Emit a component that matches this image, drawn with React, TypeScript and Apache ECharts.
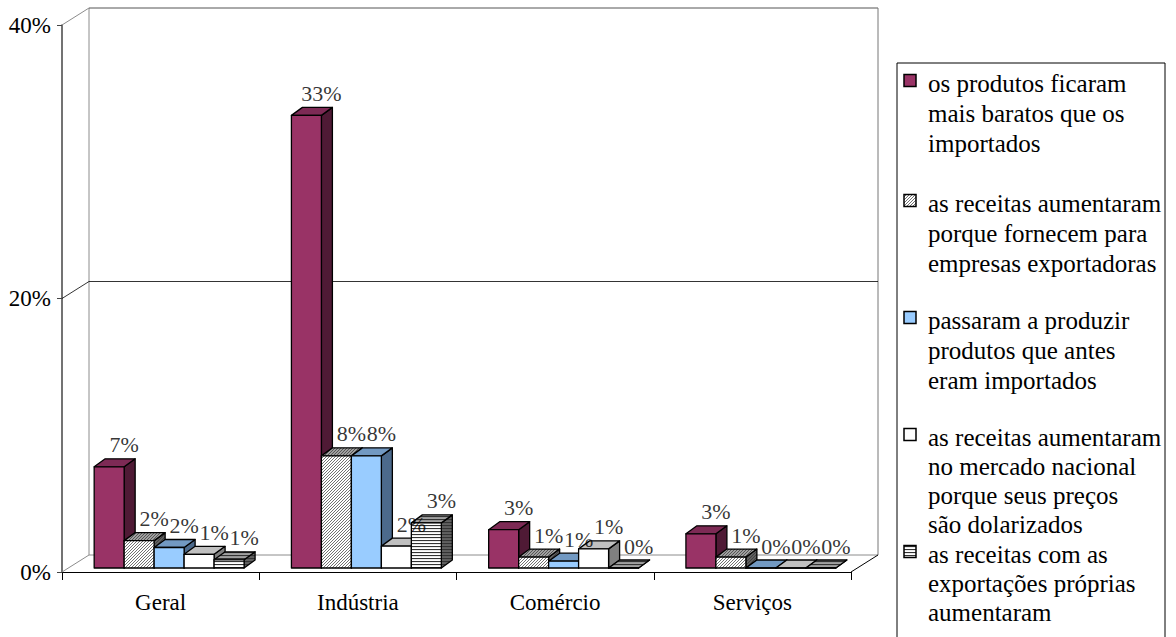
import { useEffect, useRef } from 'react';
import * as echarts from 'echarts';

// ---- data ----
const categories = ['Geral', 'Indústria', 'Comércio', 'Serviços'];

const legendLines: string[][] = [
  ['os produtos ficaram', 'mais baratos que os', 'importados'],
  ['as receitas aumentaram', 'porque fornecem para', 'empresas exportadoras'],
  ['passaram a produzir', 'produtos que antes', 'eram importados'],
  ['as receitas aumentaram', 'no mercado nacional', 'porque seus preços', 'são dolarizados'],
  ['as receitas com as', 'exportações próprias', 'aumentaram'],
];
const seriesNames = legendLines.map((l) => l.join(' '));

const cheaperThanImports = [7.4, 33.1, 2.8, 2.5];
const supplyExporters = [2.0, 8.2, 0.8, 0.8];
const replacedImports = [1.5, 8.2, 0.5, 0];
const dollarPricedDomestic = [1.0, 1.6, 1.4, 0];
const ownExports = [0.6, 3.3, 0, 0];
const seriesValues = [cheaperThanImports, supplyExporters, replacedImports, dollarPricedDomestic, ownExports];

const yMin = 0;
const yMax = 40;
const yStep = 20;

// ---- styling ----
const SERIF = 'Liberation Serif';
const WALL_DX = 27;
const WALL_DY = -17;
const FRONT_DX = 8.5;
const FRONT_DY = -4;
const BAR_DX = 11;
const BAR_DY = -8;
const BAR_FRAC = 0.152;
const BAR_PX = 30; // bar width in pixels for the label offsets (band 197 * BAR_FRAC)
const LABEL_DX = 15;
const LABEL_DY = -22;

const tile = (w: number, h: number, body: string) => ({
  image:
    'data:image/svg+xml;utf8,' +
    encodeURIComponent(`<svg xmlns="http://www.w3.org/2000/svg" width="${w}" height="${h}" viewBox="0 0 ${w} ${h}">${body}</svg>`),
  repeat: 'repeat',
  imageWidth: w,
  imageHeight: h,
});

const hatch = (bg: string) =>
  tile(
    3,
    3,
    `<rect width="3" height="3" fill="${bg}"/><path d="M0 3L3 0M-1 1L1 -1M2 4L4 2" stroke="#333" stroke-width="0.7"/>`
  );
const stripes = (bg: string) =>
  tile(3, 3, `<rect width="3" height="3" fill="${bg}"/><rect y="0" width="3" height="1.1" fill="#333"/>`);

const faceStyles = [
  { front: '#993366', top: '#7d2a55', side: '#4f1a35' },
  { front: hatch('#ffffff'), top: hatch('#a0a0a0'), side: hatch('#606060') },
  { front: '#99ccff', top: '#7299c2', side: '#4c6a8c' },
  { front: '#ffffff', top: '#c0c0c0', side: '#808080' },
  { front: stripes('#ffffff'), top: stripes('#a0a0a0'), side: stripes('#606060') },
];

const legendFirstLine = [83, 203, 320, 437, 554];
const legendLineHeight = [30, 30, 30, 29, 29];

export default function App() {
  const ref = useRef<HTMLDivElement>(null);

  useEffect(() => {
    if (!ref.current) return;
    const chart = echarts.init(ref.current, null, { renderer: 'svg' });

    const frameSeries: any = {
      type: 'custom',
      coordinateSystem: 'cartesian2d',
      data: [[0, 0]],
      z: 1,
      silent: true,
      renderItem: (params: any, api: any) => {
        const cs = params.coordSys;
        const x = cs.x;
        const y = cs.y;
        const w = cs.width;
        const yb = cs.y + cs.height;
        const gridYs: number[] = [];
        for (let v = yMin + yStep; v < yMax; v += yStep) gridYs.push(api.coord([0, v])[1]);
        const ln = (x1: number, y1: number, x2: number, y2: number, c: string, lw = 1) => ({
          type: 'line',
          shape: { x1, y1, x2, y2 },
          style: { stroke: c, lineWidth: lw },
        });
        const gray = '#8c8c8c';
        const children: any[] = [
          ln(x, y, x + WALL_DX, y + WALL_DY, gray),
          ln(x + WALL_DX, y + WALL_DY, x + WALL_DX, yb + WALL_DY, gray),
          ln(x, yb, x + WALL_DX, yb + WALL_DY, gray),
          ln(x + WALL_DX, yb + WALL_DY, x + w + WALL_DX, yb + WALL_DY, gray),
          ln(x + WALL_DX, y + WALL_DY, x + w + WALL_DX, y + WALL_DY, '#555'),
          ln(x + w + WALL_DX, y + WALL_DY, x + w + WALL_DX, yb + WALL_DY, '#777'),
          ln(x + w, yb, x + w + WALL_DX, yb + WALL_DY, '#000'),
        ];
        gridYs.forEach((gy) => {
          children.push(ln(x, gy, x + WALL_DX, gy + WALL_DY, '#000', 0.8));
          children.push(ln(x + WALL_DX, gy + WALL_DY, x + w + WALL_DX, gy + WALL_DY, '#000', 0.8));
        });
        return { type: 'group', children };
      },
    };

    // 3D boxes: side face, top face, then front face
    const barSeries = seriesValues.map((vals, idx) => ({
      type: 'custom',
      name: seriesNames[idx],
      coordinateSystem: 'cartesian2d',
      data: vals.map((v, i) => [i, v]),
      encode: { x: 0, y: 1 },
      z: 3 + idx,
      renderItem: (params: any, api: any) => {
        const cat = api.value(0);
        const val = api.value(1);
        const base = api.coord([cat, 0]);
        const top = api.coord([cat, val]);
        const band = api.size([1, 0])[0];
        const bw = band * BAR_FRAC;
        const x0 = base[0] - 2.5 * bw + idx * bw + FRONT_DX;
        const yb = base[1] + FRONT_DY;
        const yt = top[1] + FRONT_DY;
        const s = faceStyles[idx];
        const edge = { stroke: '#000', lineWidth: 1.3, lineJoin: 'round' };
        return {
          type: 'group',
          children: [
            {
              type: 'polygon',
              shape: { points: [[x0 + bw, yt], [x0 + bw + BAR_DX, yt + BAR_DY], [x0 + bw + BAR_DX, yb + BAR_DY], [x0 + bw, yb]] },
              style: { fill: s.side, ...edge },
            },
            {
              type: 'polygon',
              shape: { points: [[x0, yt], [x0 + BAR_DX, yt + BAR_DY], [x0 + bw + BAR_DX, yt + BAR_DY], [x0 + bw, yt]] },
              style: { fill: s.top, ...edge },
            },
            {
              type: 'rect',
              shape: { x: x0, y: yt, width: bw, height: Math.max(yb - yt, 0) },
              style: { fill: s.front, ...edge },
            },
          ],
        };
      },
    }));

    // value labels: invisible points at each bar top, label shifted onto the box
    const labelSeries = seriesValues.map((vals, idx) => ({
      type: 'scatter',
      name: seriesNames[idx] + ' (rótulo)',
      data: vals.map((v, i) => [i, v]),
      symbolSize: 0,
      silent: true,
      z: 20,
      label: {
        show: true,
        position: 'inside',
        offset: [(idx - 2) * BAR_PX + FRONT_DX + LABEL_DX, FRONT_DY + LABEL_DY],
        formatter: (p: any) => Math.round(p.value[1]) + '%',
        color: '#000',
        fontFamily: SERIF,
        fontSize: 22,
      },
    }));

    // legend: framed box with markers, entries as text blocks
    const legendEls: any[] = [
      {
        type: 'rect',
        shape: { x: 897, y: 63, width: 268, height: 600 },
        style: { fill: '#fff', stroke: '#000', lineWidth: 1 },
      },
    ];
    legendLines.forEach((_, i) => {
      const cy = legendFirstLine[i];
      legendEls.push({
        type: 'rect',
        shape: { x: 904, y: cy - 8.5, width: 12, height: 12 },
        style: { fill: faceStyles[i].front, stroke: '#000', lineWidth: 1.5 },
      });
    });
    const legendTitles = legendLines.map((lines, i) => ({
      text: lines.join('\n'),
      left: 928,
      top: legendFirstLine[i] - legendLineHeight[i] / 2,
      padding: 0,
      z: 10,
      textStyle: {
        color: '#000',
        fontFamily: SERIF,
        fontSize: 25,
        fontWeight: 'normal',
        lineHeight: legendLineHeight[i],
      },
    }));

    chart.setOption({
      animation: false,
      backgroundColor: '#fff',
      textStyle: { fontFamily: SERIF, color: '#000' },
      title: legendTitles,
      grid: { left: 62, right: 325, top: 25, bottom: 65 },
      xAxis: {
        type: 'category',
        data: categories,
        boundaryGap: true,
        axisLine: { lineStyle: { color: '#000', width: 1.2 } },
        axisTick: { show: true, inside: false, length: 8, lineStyle: { color: '#000' } },
        axisLabel: { color: '#000', fontFamily: SERIF, fontSize: 23, margin: 19 },
        splitLine: { show: false },
      },
      yAxis: {
        type: 'value',
        min: yMin,
        max: yMax,
        interval: yStep,
        axisLine: { show: true, lineStyle: { color: '#444', width: 1.5 } },
        axisTick: { show: true, inside: false, length: 5, lineStyle: { color: '#444' } },
        axisLabel: { color: '#000', fontFamily: SERIF, fontSize: 23, margin: 11, formatter: '{value}%' },
        splitLine: { show: false },
      },
      graphic: { elements: legendEls },
      series: [frameSeries, ...barSeries, ...labelSeries],
    });

    return () => chart.dispose();
  }, []);

  return <div ref={ref} style={{ position: 'fixed', left: 0, top: 0, width: 1176, height: 637 }} />;
}
